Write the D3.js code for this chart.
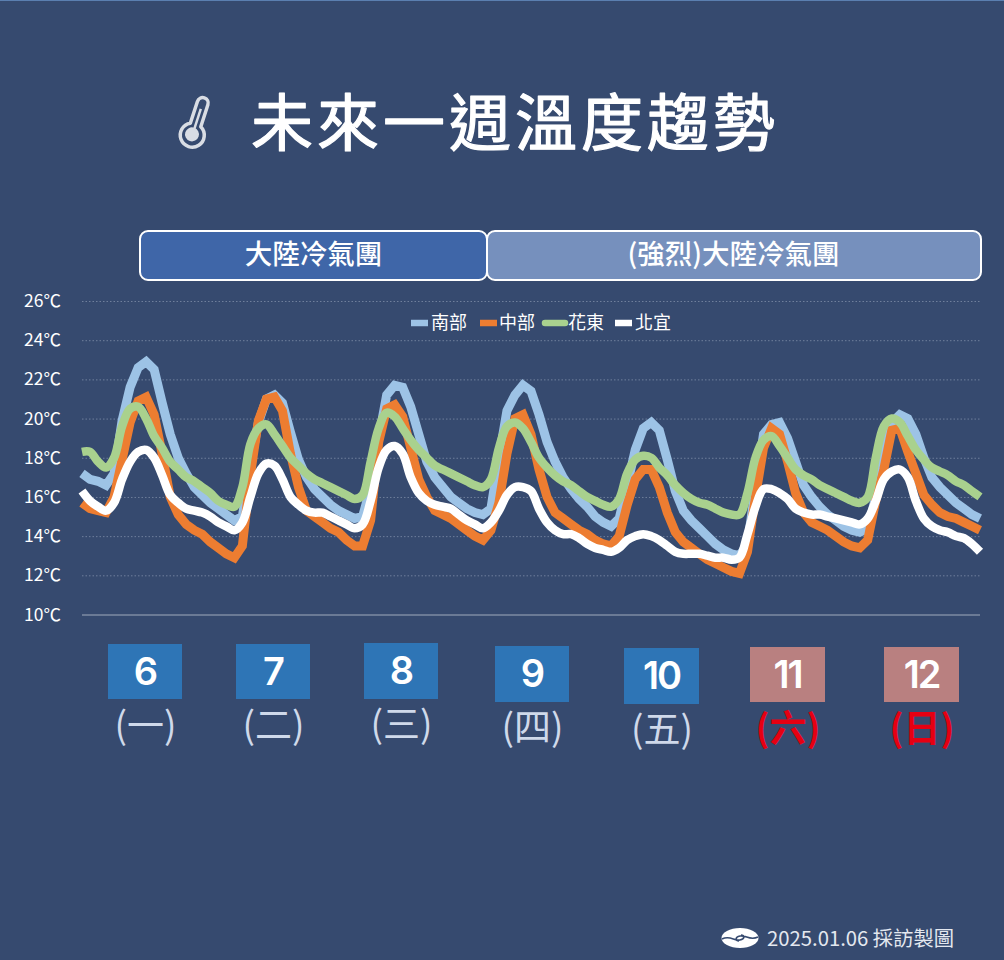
<!DOCTYPE html>
<html><head><meta charset="utf-8">
<script src="https://cdn.jsdelivr.net/npm/d3@7"></script>
<style>html,body{margin:0;padding:0;background:#364a6f;overflow:hidden}svg{display:block}
text{font-family:"Noto Sans CJK TC","Noto Sans",sans-serif}</style></head><body>
<svg id="c" width="1004" height="960"></svg>
<script>
const titleText = "未來一週溫度趨勢";
const bandLabels = ["大陸冷氣團", "(強烈)大陸冷氣團"];
const tickValues = [10,12,14,16,18,20,22,24,26];
const seriesNames = ["南部","中部","花東","北宜"];
const seriesColors = ["#9dc3e6","#ed7d31","#a9d18e","#ffffff"];
const dayNumbers = ["6","7","8","9","10","11","12"];
const weekdays = ["(一)","(二)","(三)","(四)","(五)","(六)","(日)"];
const south = [17.2,16.9,16.8,16.6,17.2,19.9,21.6,22.6,22.9,22.5,20.8,19.2,18.0,17.2,16.5,16.1,
15.7,15.4,15.1,14.8,15.0,17.6,19.8,21.0,21.2,20.8,19.3,17.9,17.0,16.4,16.0,15.6,
15.3,15.1,14.9,15.0,16.5,19.0,21.2,21.7,21.6,20.6,19.2,17.8,17.0,16.5,16.0,15.7,
15.4,15.2,15.1,15.4,18.0,20.4,21.2,21.7,21.4,20.2,18.8,17.8,17.0,16.4,15.9,15.5,
15.0,14.7,14.5,14.9,16.6,18.4,19.5,19.8,19.4,17.9,16.3,15.3,14.8,14.4,14.0,13.6,
13.3,13.1,13.0,13.6,16.5,19.2,19.7,19.8,19.0,17.8,16.6,16.0,15.5,15.1,14.8,14.5,
14.3,14.2,14.4,16.0,18.2,19.8,20.2,20.0,19.2,18.0,17.0,16.5,16.1,15.7,15.4,15.1,14.9];
const central = [15.7,15.4,15.3,15.2,16.0,17.9,19.8,20.9,21.1,20.2,18.2,16.0,15.1,14.6,14.3,14.1,
13.7,13.4,13.1,12.9,13.5,17.1,19.9,21.0,21.1,20.4,18.2,16.5,15.3,15.0,14.7,14.4,
14.2,13.8,13.5,13.5,14.8,18.8,20.5,20.7,20.1,18.5,16.9,16.0,15.3,15.1,14.9,14.6,
14.3,14.0,13.8,14.3,15.7,18.2,20.0,20.2,19.2,17.4,16.0,15.2,14.9,14.6,14.3,14.1,
13.8,13.6,13.5,14.0,15.6,16.9,17.4,17.4,16.5,15.2,14.2,13.7,13.4,13.1,12.8,12.6,
12.4,12.2,12.1,13.2,16.0,18.5,19.5,19.2,17.8,16.2,15.2,14.7,14.5,14.3,14.0,13.7,
13.5,13.4,13.8,15.8,17.4,19.4,19.5,18.3,17.2,16.1,15.6,15.2,15.0,14.9,14.7,14.5,14.3];
const east = [18.3,18.3,17.8,17.5,18.0,19.6,20.5,20.6,20.0,19.1,18.5,17.8,17.4,17.0,16.8,16.5,
16.2,15.8,15.6,15.5,16.5,18.7,19.5,19.7,19.2,18.6,18.0,17.6,17.2,16.9,16.7,16.5,
16.3,16.1,15.9,16.1,17.8,19.5,20.3,20.1,19.5,18.9,18.4,18.0,17.6,17.4,17.2,17.0,
16.8,16.6,16.5,16.9,18.5,19.6,19.8,19.5,18.8,18.0,17.5,17.1,16.8,16.6,16.3,16.0,
15.8,15.6,15.5,15.9,17.2,17.9,18.1,18.0,17.5,17.1,16.6,16.2,15.9,15.7,15.6,15.4,
15.2,15.1,15.1,16.2,18.0,18.9,19.1,18.6,18.0,17.4,17.1,16.9,16.6,16.4,16.2,16.0,
15.8,15.7,16.0,18.0,19.6,20.0,19.8,19.1,18.4,17.9,17.5,17.3,17.1,16.8,16.6,16.3,16.0];
const north = [16.3,15.8,15.5,15.3,15.7,16.9,17.8,18.3,18.4,18.0,17.1,16.1,15.7,15.4,15.3,15.2,
15.0,14.7,14.5,14.3,14.7,16.0,17.2,17.7,17.6,16.9,16.0,15.6,15.3,15.2,15.2,15.0,
14.8,14.6,14.4,14.6,15.8,17.5,18.4,18.6,18.2,17.0,16.2,15.8,15.6,15.5,15.4,15.1,
14.8,14.6,14.4,14.7,15.3,16.1,16.5,16.5,16.3,15.4,14.7,14.3,14.1,14.1,13.9,13.6,
13.4,13.3,13.2,13.4,13.8,14.0,14.1,14.0,13.8,13.5,13.2,13.1,13.1,13.1,13.0,12.9,
12.9,12.8,12.9,14.1,15.5,16.4,16.4,16.2,15.9,15.4,15.2,15.1,15.1,15.0,14.9,14.8,
14.7,14.6,14.9,15.8,16.9,17.3,17.4,17.0,15.8,14.9,14.5,14.3,14.2,14.0,13.9,13.6,13.2];
const allSeries = [south, central, east, north];

const svg = d3.select("#c");
svg.append("rect").attr("width",1004).attr("height",960).attr("fill","#364a6f");
svg.append("rect").attr("width",1004).attr("height",1).attr("fill","#5b7fb0");

const x = d3.scaleLinear().domain([0,112]).range([82,980]);
const y = d3.scaleLinear().domain([10,26]).range([614.5,301]);

// y axis & grid
const ax = svg.append("g").attr("transform","translate(82,0)")
  .call(d3.axisLeft(y).tickValues(tickValues).tickSize(-898).tickFormat(d=>d+"℃"));
ax.select(".domain").remove();
ax.selectAll(".tick line").attr("stroke",d=>d===10?"#a0abbd":"#6f7f9c")
  .attr("stroke-width",1).attr("stroke-dasharray",d=>d===10?null:"1.5 2");
ax.selectAll(".tick text").attr("fill","#fff").attr("font-size",17.5).attr("x",-21)
  .style("font-family",'"Noto Sans CJK TC",sans-serif');

// lines
const line = d3.line().x((d,i)=>x(i)).y(d=>y(d));
const smooth = d3.line().x((d,i)=>x(i)).y(d=>y(d)).curve(d3.curveCatmullRom.alpha(0.5));
svg.append("g").selectAll("path").data(allSeries).join("path")
  .attr("d",(d,i)=>i<2?line(d):smooth(d))
  .attr("fill","none").attr("stroke",(d,i)=>seriesColors[i])
  .attr("stroke-width",(d,i)=>i<2?9:8.5).attr("stroke-linejoin",(d,i)=>i<2?"miter":"round");

// legend
const legX = [411,480,545,615], legW=[17,17,20,17], legT=[431,499,568,635];
seriesNames.forEach((n,i)=>{
  svg.append("line").attr("x1",legX[i]).attr("x2",legX[i]+legW[i]).attr("y1",323).attr("y2",323)
    .attr("stroke",seriesColors[i]).attr("stroke-width",6.5).attr("stroke-linecap",i==2?"round":"butt");
  svg.append("text").attr("x",legT[i]).attr("y",329).attr("font-size",18).attr("fill","#fff").text(n);
});

// bands
const bandBox=[[140,347,"#3f66a8"],[487,494,"#7690bd"]];
bandLabels.forEach((t,i)=>{
  const b=bandBox[i];
  svg.append("rect").attr("x",b[0]).attr("y",231).attr("width",b[1]).attr("height",49).attr("rx",8)
    .attr("fill",b[2]).attr("stroke","#fff").attr("stroke-width",2);
  svg.append("text").attr("x",b[0]+b[1]/2+(i?-0.5:0)).attr("y",264).attr("text-anchor","middle")
    .attr("font-size",27.5).attr("font-weight",500).attr("fill","#fff").text(t);
});

// day boxes
const boxX=[108,236,364,495,624,750,884], boxY=[644,644,643,646,648,647,647], boxH=[55,55,56,56,56,55,55];
const boxW=[74,74,74,74,75,75,75];
dayNumbers.forEach((t,i)=>{
  const weekend=i>=5, cx=boxX[i]+boxW[i]/2;
  svg.append("rect").attr("x",boxX[i]).attr("y",boxY[i]).attr("width",boxW[i]).attr("height",boxH[i])
    .attr("fill",weekend?"#b98080":"#2e75b6");
  svg.append("text").attr("x",cx).attr("y",boxY[i]+41).attr("text-anchor","middle")
    .attr("font-size",38).attr("font-weight",600).attr("fill","#fff").style("font-family","Inter,'Noto Sans',sans-serif")
    .attr("letter-spacing",-2).text(t);
  svg.append("text").attr("x",cx+0.5).attr("y",boxY[i]+95).attr("text-anchor","middle")
    .attr("font-size",37).attr("font-weight",weekend?700:400).attr("fill",weekend?"#e60012":"#cfd9ea").text(weekdays[i]);
});

// title
svg.append("text").attr("x",251).attr("y",146).attr("font-size",62).attr("font-weight",400)
  .attr("letter-spacing",4).attr("fill","#fff").attr("stroke","#fff").attr("stroke-width",1.2)
  .attr("stroke-linejoin","round").text(titleText);

// thermometer icon
const th=svg.append("g").attr("transform","translate(196,122) rotate(18)");
th.append("path").attr("d","M-5,-20 a5.5,5.5 0 0 1 11,0 L6,3 A12,12 0 1 1 -5,3 Z")
  .attr("fill","none").attr("stroke","#d9dde4").attr("stroke-width",3.5).attr("stroke-linejoin","round");
th.append("circle").attr("cx",0).attr("cy",13).attr("r",7).attr("fill","#d9dde4");
th.append("line").attr("x1",0.5).attr("x2",0.5).attr("y1",-14).attr("y2",8).attr("stroke","#d9dde4").attr("stroke-width",2.5);

// footer
const logo=svg.append("g").attr("transform","translate(740,938)");
logo.append("ellipse").attr("rx",18.5).attr("ry",10).attr("fill","#fff");
logo.append("path").attr("d","M-18,1 C-10,-3 -6,3 0,2 C5,1 5,-3 1,-3 M18,-1 C10,3 6,-3 0,-2 C-5,-1 -5,3 -1,3")
  .attr("fill","none").attr("stroke","#364a6f").attr("stroke-width",1.6);
svg.append("text").attr("x",767).attr("y",946).attr("font-size",20.3).attr("fill","#e4e8ef").text("2025.01.06 採訪製圖");
</script></body></html>
